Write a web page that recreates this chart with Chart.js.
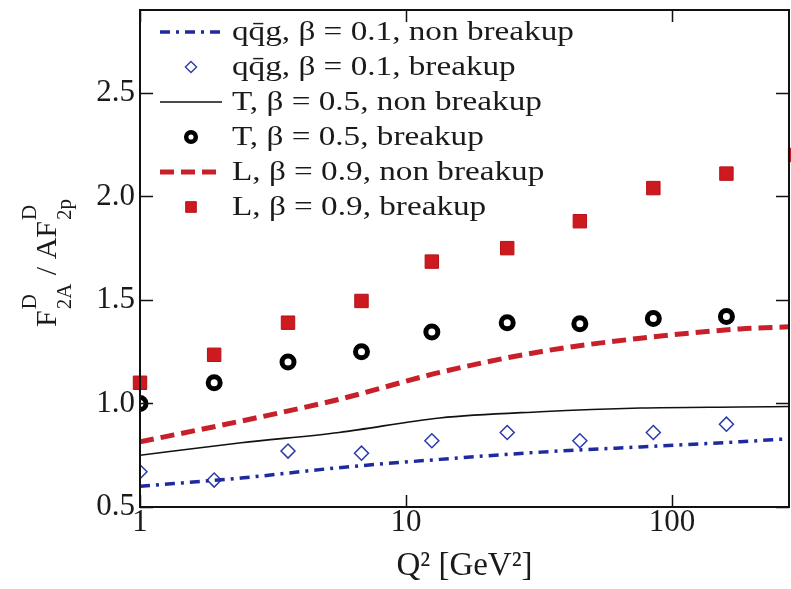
<!DOCTYPE html>
<html>
<head>
<meta charset="utf-8">
<script src="https://cdn.jsdelivr.net/npm/chart.js@4.4.1/dist/chart.umd.min.js"></script>
<style>
  html, body { margin: 0; padding: 0; background: #fff; }
  #wrap { width: 791px; height: 589px; }
</style>
</head>
<body>
<div id="wrap"><canvas id="ratioChart"></canvas></div>
<script>
// Q^2 of the breakup points (last L point sits just past the right edge)
const q2Points = [1, 1.9, 3.6, 6.8, 12.5, 24, 45, 85, 160];
const q2PointsL = [1, 1.9, 3.6, 6.8, 12.5, 24, 45, 85, 160, 290];
const qqgBreakup = [0.67, 0.63, 0.77, 0.76, 0.82, 0.86, 0.82, 0.86, 0.90];
const tBreakup = [1.00, 1.10, 1.20, 1.25, 1.345, 1.39, 1.385, 1.41, 1.42];
const lBreakup = [1.10, 1.235, 1.39, 1.495, 1.685, 1.75, 1.88, 2.04, 2.11, 2.20];

// non breakup curves
const q2Curve = [1, 2.4, 5.6, 13.4, 32, 76, 180, 275];
const qqgNonBreakup = [0.60, 0.64, 0.69, 0.73, 0.765, 0.79, 0.815, 0.83];
const tNonBreakup = [0.75, 0.81, 0.86, 0.93, 0.96, 0.978, 0.983, 0.985];
const lNonBreakup = [0.815, 0.915, 1.02, 1.15, 1.25, 1.315, 1.36, 1.37];

const xTickLabels = ["1", "10", "100"];
const yTickLabels = ["0.5", "1.0", "1.5", "2.0", "2.5"];

const serif = '"Liberation Serif", "Times New Roman", serif';

function pairs(xs, ys) {
    return ys.map(function (v, i) { return { x: xs[i], y: v }; });
}

function drawMarker(ctx, ds, x, y, scale) {
    const r = ds.pointRadius * scale;
    ctx.save();
    ctx.fillStyle = ds.pointBackgroundColor;
    ctx.strokeStyle = ds.pointBorderColor;
    ctx.lineWidth = ds.pointBorderWidth * (scale < 1 ? 0.9 : 1);
    ctx.beginPath();
    if (ds.pointStyle === "rect") {
        const s = r * Math.SQRT1_2;
        ctx.rect(x - s, y - s, 2 * s, 2 * s);
    } else if (ds.pointStyle === "rectRot") {
        ctx.moveTo(x, y - r); ctx.lineTo(x + r, y); ctx.lineTo(x, y + r); ctx.lineTo(x - r, y);
        ctx.closePath();
    } else {
        ctx.arc(x, y, r, 0, Math.PI * 2);
    }
    ctx.fill();
    ctx.stroke();
    ctx.restore();
}

// frame with inward ticks on all four sides
const frameTicks = {
    id: "frameTicks",
    afterDraw(chart) {
        const { ctx, chartArea: a, scales: { x, y } } = chart;
        ctx.save();
        ctx.strokeStyle = "#111";
        ctx.lineWidth = 1.5;
        ctx.beginPath();
        x.ticks.forEach(function (t) {
            const px = Math.round(x.getPixelForValue(t.value)) + 0.5;
            if (px < a.left || px > a.right) return;
            const len = t.label ? 12 : 7;
            ctx.moveTo(px, a.bottom); ctx.lineTo(px, a.bottom - len);
            ctx.moveTo(px, a.top); ctx.lineTo(px, a.top + len);
        });
        y.ticks.forEach(function (t) {
            const py = Math.round(y.getPixelForValue(t.value)) + 0.5;
            const len = t.label ? 13 : 7;
            ctx.moveTo(a.left, py); ctx.lineTo(a.left + len, py);
            ctx.moveTo(a.right, py); ctx.lineTo(a.right - len, py);
        });
        ctx.stroke();
        ctx.lineWidth = 2;
        ctx.strokeRect(a.left, a.top, a.right - a.left, a.bottom - a.top);
        ctx.restore();
    }
};

// legend in the top left corner of the plot
const cornerLegend = {
    id: "cornerLegend",
    afterDraw(chart) {
        const { ctx, chartArea: a } = chart;
        ctx.save();
        ctx.font = "27px " + serif;
        ctx.textBaseline = "middle";
        chart.data.datasets.forEach(function (ds, i) {
            const cy = a.top + 22 + i * 35;
            if (ds.showLine) {
                ctx.save();
                ctx.strokeStyle = ds.borderColor;
                ctx.lineWidth = ds.borderWidth;
                ctx.setLineDash(ds.borderDash || []);
                ctx.beginPath();
                ctx.moveTo(a.left + 20, cy);
                ctx.lineTo(a.left + 82, cy);
                ctx.stroke();
                ctx.restore();
            } else {
                drawMarker(ctx, ds, a.left + 51, cy, 0.8);
            }
            // the original lettering is a little wide, stretch it to match
            ctx.save();
            ctx.translate(a.left + 92, cy + 1);
            ctx.scale(1.23, 1);
            ctx.fillStyle = "#1a1a1a";
            ctx.fillText(ds.label, 0, 0);
            ctx.restore();
        });
        ctx.restore();
    }
};

// rotated y title with super/subscripts: F^D_2A / AF^D_2p
const yTitle = {
    id: "yTitle",
    afterDraw(chart) {
        const { ctx, chartArea: a } = chart;
        const big = "30px " + serif, small = "21px " + serif;
        const parts = [
            { text: "F" },
            { sup: "D", sub: "2A" },
            { text: " / AF" },
            { sup: "D", sub: "2p" }
        ];
        ctx.save();
        let total = 0;
        parts.forEach(function (p) {
            if (p.text) { ctx.font = big; p.w = ctx.measureText(p.text).width; }
            else { ctx.font = small; p.w = Math.max(ctx.measureText(p.sup).width, ctx.measureText(p.sub).width) + 2; }
            total += p.w;
        });
        ctx.translate(56, (a.top + a.bottom) / 2 + 4);
        ctx.rotate(-Math.PI / 2);
        ctx.fillStyle = "#1a1a1a";
        ctx.textBaseline = "alphabetic";
        let cx = -total / 2;
        parts.forEach(function (p) {
            if (p.text) {
                ctx.font = big;
                ctx.fillText(p.text, cx, 0);
            } else {
                ctx.font = small;
                ctx.fillText(p.sup, cx + 1, -20);
                ctx.fillText(p.sub, cx + 1, 15);
            }
            cx += p.w;
        });
        ctx.restore();
    }
};

Chart.defaults.color = "#1a1a1a";

const canvas = document.getElementById("ratioChart");

new Chart(canvas, {
    type: "scatter",
    data: {
        datasets: [
            {
                label: "qq\u0304g, \u03b2 = 0.1, non breakup",
                data: pairs(q2Curve, qqgNonBreakup),
                showLine: true,
                borderColor: "#1f2a9e",
                borderWidth: 3.5,
                borderDash: [10, 6, 3, 6],
                pointRadius: 0,
                cubicInterpolationMode: "monotone"
            },
            {
                label: "qq\u0304g, \u03b2 = 0.1, breakup",
                data: pairs(q2Points, qqgBreakup),
                pointStyle: "rectRot",
                pointRadius: 7,
                pointBorderWidth: 1.5,
                pointBorderColor: "#2a3aa8",
                pointBackgroundColor: "#ffffff"
            },
            {
                label: "T, \u03b2 = 0.5, non breakup",
                data: pairs(q2Curve, tNonBreakup),
                showLine: true,
                borderColor: "#111111",
                borderWidth: 1.6,
                pointRadius: 0,
                cubicInterpolationMode: "monotone"
            },
            {
                label: "T, \u03b2 = 0.5, breakup",
                data: pairs(q2Points, tBreakup),
                pointStyle: "circle",
                pointRadius: 6,
                pointBorderWidth: 5,
                pointBorderColor: "#000000",
                pointBackgroundColor: "#ffffff"
            },
            {
                label: "L, \u03b2 = 0.9, non breakup",
                data: pairs(q2Curve, lNonBreakup),
                showLine: true,
                borderColor: "#c8202a",
                borderWidth: 5,
                borderDash: [14, 7],
                pointRadius: 0,
                cubicInterpolationMode: "monotone"
            },
            {
                label: "L, \u03b2 = 0.9, breakup",
                data: pairs(q2PointsL, lBreakup),
                pointStyle: "rect",
                pointRadius: 9.5,
                pointBorderWidth: 1,
                pointBorderColor: "#b8101a",
                pointBackgroundColor: "#cc1a1f",
                clip: false
            }
        ]
    },
    options: {
        responsive: true,
        maintainAspectRatio: false,
        animation: false,
        layout: { autoPadding: false, padding: { top: 10, right: 2, bottom: 0, left: 0 } },
        plugins: {
            legend: { display: false },
            tooltip: { enabled: false }
        },
        scales: {
            x: {
                type: "logarithmic",
                min: 1,
                max: 275,
                grid: { display: false, drawTicks: false },
                border: { display: false },
                ticks: {
                    autoSkip: false,
                    maxRotation: 0,
                    padding: 0,
                    font: { family: serif, size: 31, lineHeight: 1 },
                    callback: function (value) {
                        const s = String(value);
                        return xTickLabels.includes(s) ? s : null;
                    }
                },
                title: {
                    display: true,
                    text: "Q\u00b2 [GeV\u00b2]",
                    font: { family: serif, size: 33 },
                    padding: { top: 0, bottom: 3 }
                },
                afterFit: function (scale) {
                    scale.height = 82;
                    scale.paddingLeft = 0;
                    scale.paddingRight = 0;
                }
            },
            y: {
                min: 0.5,
                max: 2.9,
                grid: { display: false, drawTicks: false },
                border: { display: false },
                ticks: {
                    stepSize: 0.1,
                    includeBounds: false,
                    autoSkip: false,
                    padding: 5,
                    font: { family: serif, size: 31 },
                    callback: function (value) {
                        const s = Number(value).toFixed(1);
                        return yTickLabels.includes(s) ? s : null;
                    }
                },
                afterFit: function (scale) {
                    scale.width = 140;
                    scale.paddingTop = 0;
                    scale.paddingBottom = 0;
                }
            }
        }
    },
    plugins: [frameTicks, cornerLegend, yTitle]
});
</script>
</body>
</html>
